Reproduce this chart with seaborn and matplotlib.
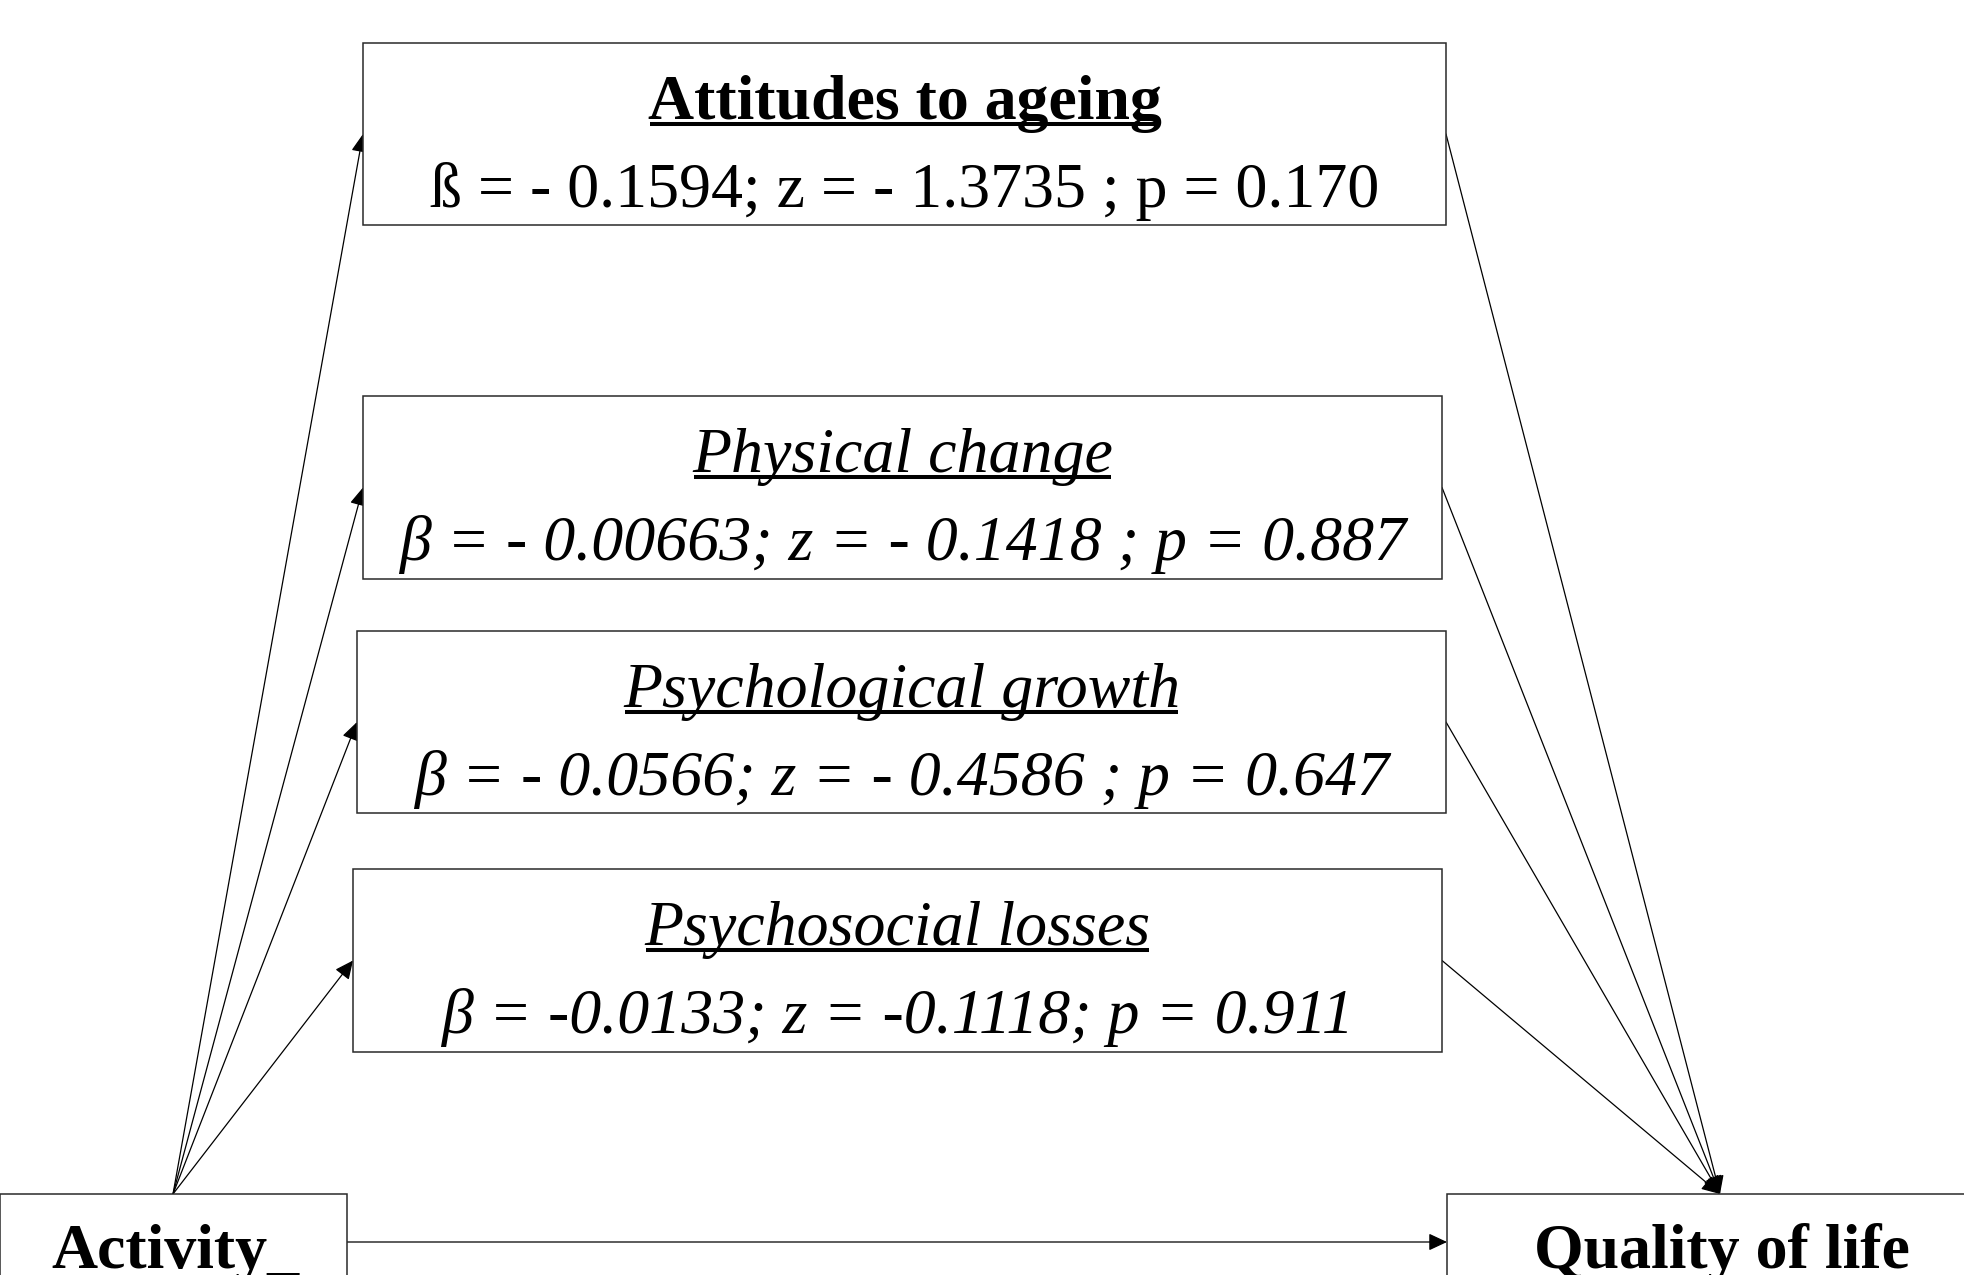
import matplotlib
matplotlib.use("Agg")
import matplotlib.pyplot as plt
import seaborn as sns
from matplotlib.patches import Rectangle

# mediator boxes (top to bottom)
mediators = ["Attitudes to ageing", "Physical change", "Psychological growth", "Psychosocial losses"]
stats = [
    "ß = - 0.1594; z = - 1.3735 ; p = 0.170",
    "β = - 0.00663; z = - 0.1418 ; p = 0.887",
    "β = - 0.0566; z = - 0.4586 ; p = 0.647",
    "β = -0.0133; z = -0.1118; p = 0.911",
]
styles = ["normal", "italic", "italic", "italic"]
weights = ["bold", "normal", "normal", "normal"]

# box geometry in pixel coordinates (left, top, right, bottom)
med_left = [363, 363, 357, 353]
med_right = [1446, 1442, 1446, 1442]
med_top = [43, 396, 631, 869]
med_bottom = [225, 579, 813, 1052]

source_label = "Activity_"
outcome_label = "Quality of life"

W, H = 1964, 1275
sns.set_theme(style="white")
plt.rcParams["font.family"] = ["Liberation Serif", "DejaVu Serif"]
plt.rcParams["text.color"] = "black"

fig = plt.figure(figsize=(W / 100, H / 100), dpi=100)
ax = fig.add_axes([0, 0, 1, 1])
ax.set_xlim(0, W)
ax.set_ylim(H, 0)
ax.axis("off")

box_kw = dict(facecolor="white", edgecolor="#2a2a2a", linewidth=1.1, zorder=2)
arrow_kw = dict(arrowstyle="-|>,head_length=0.75,head_width=0.35", mutation_scale=15,
                color="black", lw=0.9, shrinkA=0, shrinkB=0)

# source and outcome boxes (cut off at the bottom edge, as in the original)
ax.add_patch(Rectangle((0, 1194), 347, 200, **box_kw))
ax.add_patch(Rectangle((1447, 1194), 600, 200, **box_kw))
ax.text(175, 1268, source_label, ha="center", va="baseline", fontsize=46,
        fontweight="bold", color="black", zorder=3)
ax.text(1722, 1268, outcome_label, ha="center", va="baseline", fontsize=46,
        fontweight="bold", color="black", zorder=3)

src = (173, 1194)
dst = (1720, 1194)

titles = []
for i, name in enumerate(mediators):
    l, r, t, b = med_left[i], med_right[i], med_top[i], med_bottom[i]
    ax.add_patch(Rectangle((l, t), r - l, b - t, **box_kw))
    cx = (l + r) / 2
    mid = (t + b) / 2
    tt = ax.text(cx, t + 76, name, ha="center", va="baseline", fontsize=46,
                 fontweight=weights[i], fontstyle=styles[i], color="black", zorder=3)
    titles.append(tt)
    ax.text(cx, t + 164, stats[i], ha="center", va="baseline", fontsize=46,
            fontstyle=styles[i], color="black", zorder=3)
    # path a: activity -> mediator
    ax.annotate("", xy=(l, mid), xytext=src, arrowprops=arrow_kw, zorder=1)
    # path b: mediator -> quality of life
    ax.annotate("", xy=dst, xytext=(r, mid), arrowprops=arrow_kw, zorder=1)

# direct path
ax.annotate("", xy=(1447, 1242), xytext=(347, 1242), arrowprops=arrow_kw, zorder=1)

# underline the mediator titles
fig.canvas.draw()
renderer = fig.canvas.get_renderer()
inv = ax.transData.inverted()
for i, tt in enumerate(titles):
    bb = tt.get_window_extent(renderer)
    x0, _ = inv.transform((bb.x0, 0))
    x1, _ = inv.transform((bb.x1, 0))
    y = med_top[i] + 76 + 5
    ax.plot([x0 + 2, x1 - 2], [y, y], color="black", lw=2.9, solid_capstyle="butt", zorder=3)

fig.savefig("out.png", dpi=100)
